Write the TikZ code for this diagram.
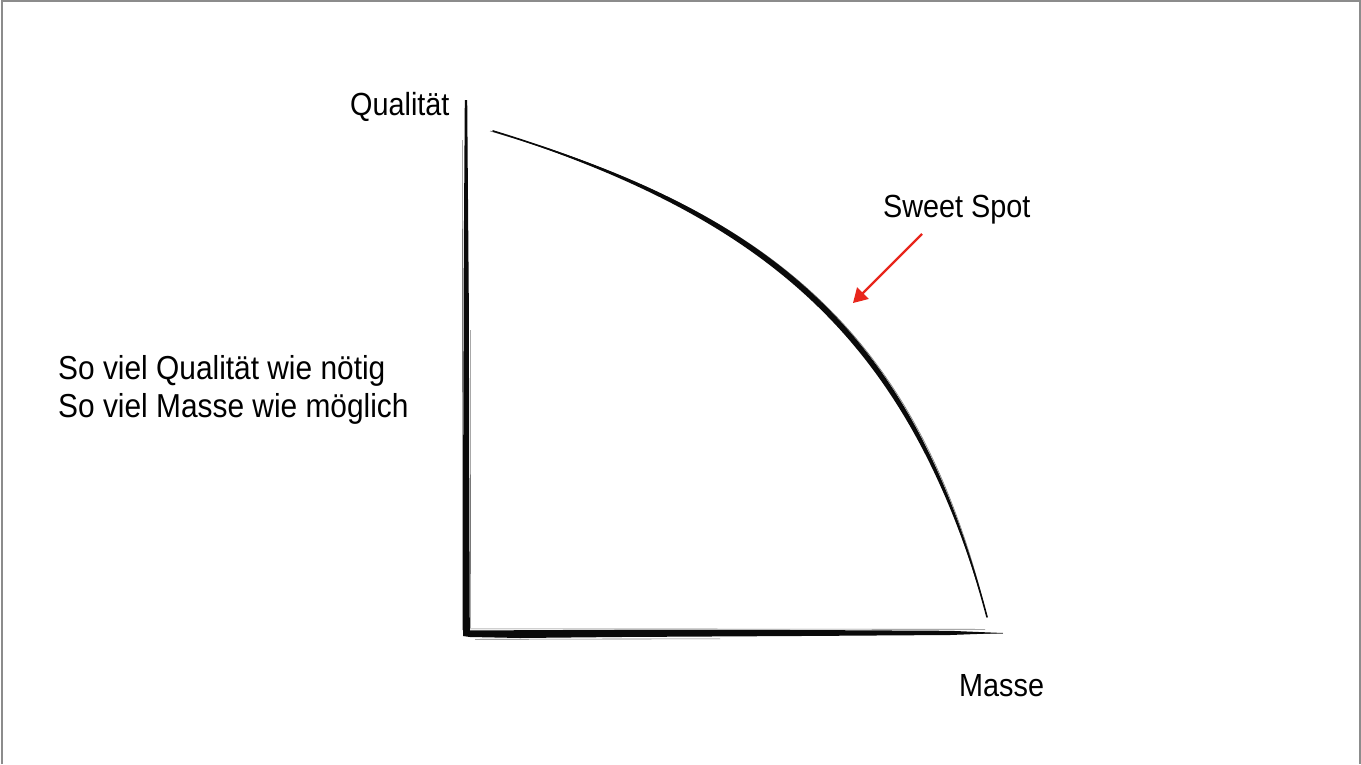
\documentclass[tikz,border=0pt]{standalone}
\usepackage{fontspec}
\setmainfont[FakeStretch=0.9]{Liberation Sans}
\usetikzlibrary{arrows.meta}
\definecolor{framegray}{HTML}{8C8C8C}
\definecolor{spotred}{HTML}{E8261C}
\definecolor{ink}{HTML}{0A0A0A}
\begin{document}
\begin{tikzpicture}[x=1pt,y=-1pt,
  lbl/.style={inner sep=0pt, anchor=base west, font=\fontsize{32}{38}\selectfont},
  biglbl/.style={lbl, font=\fontsize{33.2}{38}\selectfont},
  brush/.style={ink, line width=0.6pt, opacity=0.55},
  pointer/.style={spotred, line width=2.2pt, -{Triangle[length=14pt,width=16pt]}}]
\useasboundingbox (0,0) rectangle (1361,764);
% frame (left, top, right)
\draw[framegray, line width=2pt] (2,764) -- (2,1) -- (1360,1) -- (1360,764);

% named points
\coordinate (O) at (466,633);
\coordinate (ytop) at (466,100);
\coordinate (xend) at (1003,633);
\coordinate (cs) at (493,131);
\coordinate (ce) at (987,617);
\coordinate (at) at (922,234);
\coordinate (ah) at (853,303);

% vertical axis (brush stroke)
\fill[ink] (ytop) ++(-1.2,0) -- ++(2.4,0) -- (468.8,300) -- (469.3,500) -- (469.8,632)
  -- (463,633) -- (463.2,450) -- (463.8,250) -- cycle;
\draw[brush] (462.6,140) -- (462.3,630);
\draw[brush] (470.3,330) -- (470.6,628);

% horizontal axis (brush stroke)
\fill[ink] (463,630.5) -- (600,629.8) -- (800,630) -- (950,630.8) -- (xend)
  -- (950,635) -- (800,636) -- (620,637) -- (520,638) -- (470,637) -- (463,636) -- cycle;
\draw[brush] (470,628.8) -- (985,629.3);
\draw[brush] (475,639.3) -- (720,638.8);
\draw[brush] (O) -- (xend);

% curve (tapered brush stroke)
\fill[ink] (cs) .. controls (773,213) and (916,335) .. (ce)
  .. controls (909.5,340) and (769,219.5) .. (cs) -- cycle;
\draw[ink, line width=1.6pt, line cap=round] (cs) .. controls (772,216) and (913,337.5) .. (ce);
\draw[brush] (cs) ++(-3,0) .. controls (770,212) and (918,333) .. (ce);

% arrow
\draw[pointer] (at) -- (ah);

% labels
\node[lbl] (q) at (350,115) {Qualität};
\node[lbl] (m) at (959,696) {Masse};
\node[lbl] (s) at (883,217) {Sweet Spot};
\node[biglbl] (l1) at (58,379) {So viel Qualität wie nötig};
\node[biglbl] (l2) at (58,417) {So viel Masse wie möglich};
\end{tikzpicture}
\end{document}
